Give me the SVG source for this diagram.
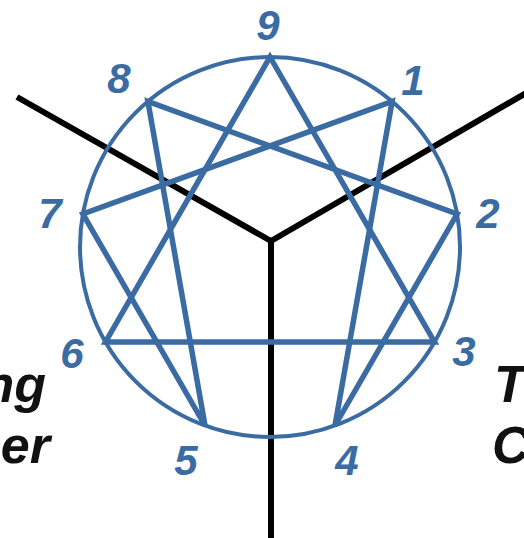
<svg xmlns="http://www.w3.org/2000/svg" width="524" height="538" viewBox="0 0 524 538">
<style>
.num{font-family:"Liberation Sans",Arial,sans-serif;font-weight:bold;font-style:italic;font-size:42px;fill:#3b6ba3;text-anchor:middle}
.lbl{font-family:"Liberation Sans",Arial,sans-serif;font-weight:bold;font-style:italic;font-size:52px;fill:#111}
.star{stroke:#3b6ba3;stroke-width:5.5;fill:none;stroke-linejoin:miter}
.axis{stroke:#000;stroke-width:6;fill:none}
</style>
<rect width="524" height="538" fill="#fff"/>
<g id="axes">
<line class="axis" x1="271" y1="241" x2="17" y2="97"/>
<line class="axis" x1="271" y1="241" x2="545" y2="82"/>
<line class="axis" x1="271" y1="238" x2="271" y2="545"/>
</g>
<circle id="circle" cx="270" cy="247" r="190" fill="none" stroke="#3b6ba3" stroke-width="4"/>
<g id="connectors">
<polygon class="star" points="270,57 434.5,342 105.5,342"/>
<polygon class="star" points="392.1,101.5 335,425.5 457.1,214 147.9,101.5 205,425.5 82.9,214"/>
</g>
<g id="n9"><text class="num" x="268" y="40">9</text></g>
<g id="n1"><text class="num" x="413" y="95">1</text></g>
<g id="n2"><text class="num" x="488" y="228">2</text></g>
<g id="n3"><text class="num" x="464" y="366">3</text></g>
<g id="n4"><text class="num" x="347" y="475">4</text></g>
<g id="n5"><text class="num" x="186" y="475">5</text></g>
<g id="n6"><text class="num" x="72" y="368">6</text></g>
<g id="n7"><text class="num" x="50" y="228">7</text></g>
<g id="n8"><text class="num" x="119" y="93">8</text></g>
<g id="left-label">
<text class="lbl" x="46" y="402" text-anchor="end">ng</text>
<text class="lbl" x="50" y="463" text-anchor="end">er</text>
</g>
<g id="right-label">
<text class="lbl" x="494" y="402">Th</text>
<text class="lbl" x="492" y="463">C</text>
</g>
</svg>
